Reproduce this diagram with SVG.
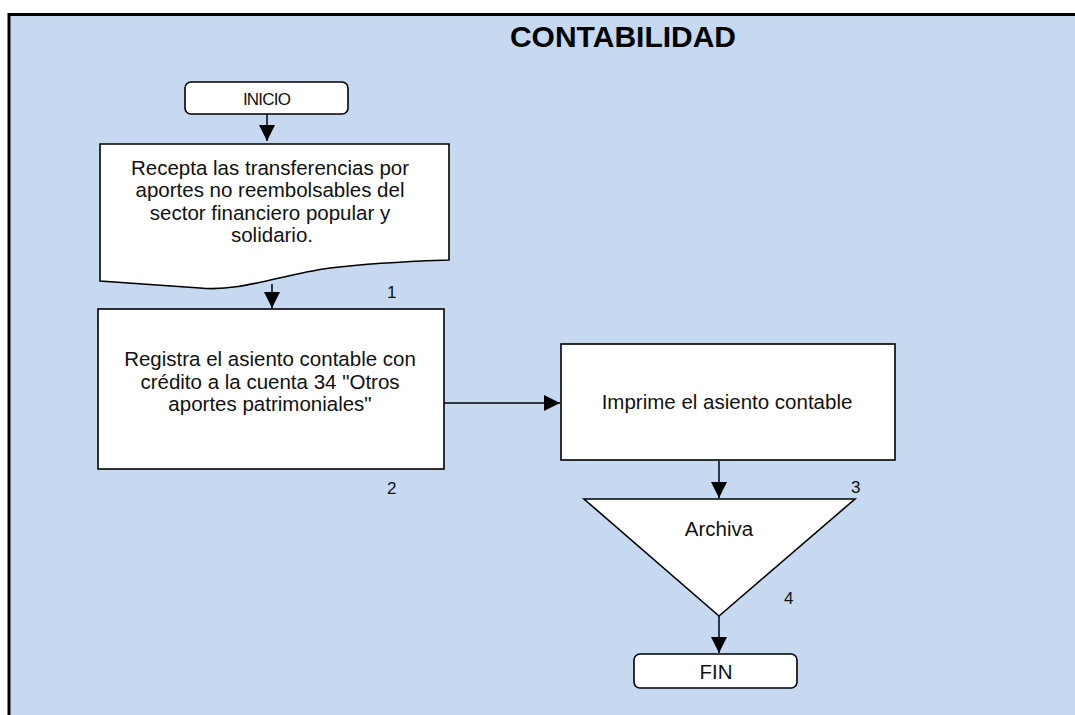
<svg xmlns="http://www.w3.org/2000/svg" width="1075" height="715" viewBox="0 0 1075 715">
  <style>
    .shape { fill: #ffffff; stroke: #000000; stroke-width: 1.6; }
    .txt { font-family: "Liberation Sans", Arial, sans-serif; font-size: 20.5px; fill: #111111; text-anchor: middle; }
    .num { font-family: "Liberation Sans", Arial, sans-serif; font-size: 17px; fill: #111111; }
    .conn { stroke: #000000; stroke-width: 1.5; fill: none; marker-end: url(#arrow); }
  </style>
  <defs>
    <marker id="arrow" markerUnits="userSpaceOnUse" markerWidth="16" markerHeight="16" viewBox="0 0 14 14" refX="14" refY="7" orient="auto">
      <path d="M0,0 L14,7 L0,14 Z" fill="#000000"/>
    </marker>
  </defs>
  <rect x="0" y="0" width="1075" height="715" fill="#ffffff"/>
  <rect id="frame" x="9" y="14.5" width="1080" height="720" fill="#c6d9f0" stroke="#000000" stroke-width="3"/>
  <text x="623" y="47" style="font-family: 'Liberation Sans', Arial, sans-serif; font-size: 30px; font-weight: bold; fill: #000000; text-anchor: middle;">CONTABILIDAD</text>

  <g id="connectors">
    <line class="conn" x1="267" y1="114" x2="267" y2="141"/>
    <line class="conn" x1="272" y1="284" x2="272" y2="308"/>
    <line class="conn" x1="444" y1="403" x2="560" y2="403"/>
    <line class="conn" x1="719" y1="461" x2="719" y2="498"/>
    <line class="conn" x1="719" y1="616" x2="719" y2="653"/>
  </g>

  <g id="inicio">
    <rect class="shape" x="185" y="82" width="163" height="32" rx="6" ry="6"/>
    <text class="txt" x="266.5" y="104.5" style="font-size: 17px; letter-spacing: -0.8px;">INICIO</text>
  </g>

  <g id="documento">
    <path class="shape" d="M100,144 L449,144 L449,260 C420,261 380,262 330,268 C280,275 240,292 200,288 C160,285 130,283 100,281 Z"/>
    <text class="txt" x="270" y="174.5">Recepta las transferencias por</text>
    <text class="txt" x="270" y="197">aportes no reembolsables del</text>
    <text class="txt" x="270" y="219.5">sector financiero popular y</text>
    <text class="txt" x="272" y="242">solidario.</text>
  </g>
  <text class="num" x="387" y="298">1</text>

  <g id="registra">
    <rect class="shape" x="98" y="309" width="346" height="160"/>
    <text class="txt" x="270" y="366">Registra el asiento contable con</text>
    <text class="txt" x="270" y="388.5">crédito a la cuenta 34 "Otros</text>
    <text class="txt" x="270" y="411">aportes patrimoniales"</text>
  </g>
  <text class="num" x="387" y="494">2</text>

  <g id="imprime">
    <rect class="shape" x="561" y="344" width="334" height="116"/>
    <text class="txt" x="727" y="409">Imprime  el  asiento contable</text>
  </g>
  <text class="num" x="851" y="493">3</text>

  <g id="archiva">
    <path class="shape" d="M584,499 L855,499 L719,616 Z"/>
    <text class="txt" x="719" y="536">Archiva</text>
  </g>
  <text class="num" x="784" y="604">4</text>

  <g id="fin">
    <rect class="shape" x="634" y="654" width="163" height="34" rx="6" ry="6"/>
    <text class="txt" x="716" y="679">FIN</text>
  </g>
</svg>
